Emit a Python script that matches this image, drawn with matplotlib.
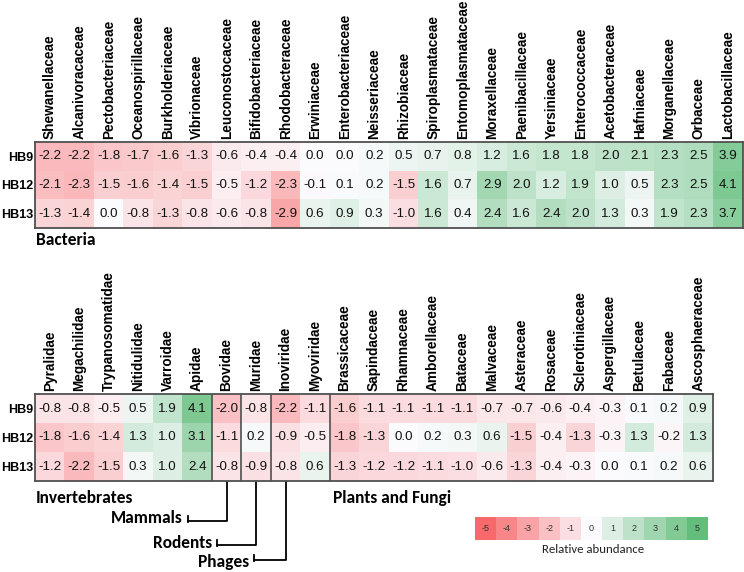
import matplotlib
matplotlib.use('Agg')
import matplotlib.pyplot as plt
import numpy as np
from matplotlib.colors import LinearSegmentedColormap, Normalize
from matplotlib import font_manager as fm

# ---------------- data ----------------
samples = ['HB9', 'HB12', 'HB13']

bacteria_families = ['Shewanellaceae', 'Alcanivoracaceae', 'Pectobacteriaceae', 'Oceanospirillaceae',
                     'Burkholderiaceae', 'Vibrionaceae', 'Leuconostocaceae', 'Bifidobacteriaceae',
                     'Rhodobacteraceae', 'Erwiniaceae', 'Enterobacteriaceae', 'Neisseriaceae',
                     'Rhizobiaceae', 'Spiroplasmataceae', 'Entomoplasmataceae', 'Moraxellaceae',
                     'Paenibacillaceae', 'Yersiniaceae', 'Enterococcaceae', 'Acetobacteraceae',
                     'Hafniaceae', 'Morganellaceae', 'Orbaceae', 'Lactobacillaceae']
bacteria_hb9 = [-2.2, -2.2, -1.8, -1.7, -1.6, -1.3, -0.6, -0.4, -0.4, 0.0, 0.0, 0.2,
                0.5, 0.7, 0.8, 1.2, 1.6, 1.8, 1.8, 2.0, 2.1, 2.3, 2.5, 3.9]
bacteria_hb12 = [-2.1, -2.3, -1.5, -1.6, -1.4, -1.5, -0.5, -1.2, -2.3, -0.1, 0.1, 0.2,
                 -1.5, 1.6, 0.7, 2.9, 2.0, 1.2, 1.9, 1.0, 0.5, 2.3, 2.5, 4.1]
bacteria_hb13 = [-1.3, -1.4, 0.0, -0.8, -1.3, -0.8, -0.6, -0.8, -2.9, 0.6, 0.9, 0.3,
                 -1.0, 1.6, 0.4, 2.4, 1.6, 2.4, 2.0, 1.3, 0.3, 1.9, 2.3, 3.7]

other_families = ['Pyralidae', 'Megachilidae', 'Trypanosomatidae', 'Nitidulidae', 'Varroidae', 'Apidae',
                  'Bovidae', 'Muridae', 'Inoviridae', 'Myoviridae',
                  'Brassicaceae', 'Sapindaceae', 'Rhamnaceae', 'Amborellaceae', 'Bataceae', 'Malvaceae',
                  'Asteraceae', 'Rosaceae', 'Sclerotiniaceae', 'Aspergillaceae', 'Betulaceae',
                  'Fabaceae', 'Ascosphaeraceae']
other_hb9 = [-0.8, -0.8, -0.5, 0.5, 1.9, 4.1, -2.0, -0.8, -2.2, -1.1,
             -1.6, -1.1, -1.1, -1.1, -1.1, -0.7, -0.7, -0.6, -0.4, -0.3, 0.1, 0.2, 0.9]
other_hb12 = [-1.8, -1.6, -1.4, 1.3, 1.0, 3.1, -1.1, 0.2, -0.9, -0.5,
              -1.8, -1.3, 0.0, 0.2, 0.3, 0.6, -1.5, -0.4, -1.3, -0.3, 1.3, -0.2, 1.3]
other_hb13 = [-1.2, -2.2, -1.5, 0.3, 1.0, 2.4, -0.8, -0.9, -0.8, 0.6,
              -1.3, -1.2, -1.2, -1.1, -1.0, -0.6, -1.3, -0.4, -0.3, 0.0, 0.1, 0.2, 0.6]

# group sizes in the lower panel: Invertebrates, Mammals, Rodents, Phages, Plants and Fungi
other_group_sizes = [6, 1, 1, 2, 13]

legend_values = [-5, -4, -3, -2, -1, 0, 1, 2, 3, 4, 5]

# ---------------- figure ----------------
W, H = 744, 572
fig = plt.figure(figsize=(W / 100, H / 100), dpi=100)

cmap = LinearSegmentedColormap.from_list('ra', ['#f8696b', '#fcfcff', '#63be7b'])
norm = Normalize(-5, 5)

installed = set(f.name for f in fm.fontManager.ttflist)
SANS = [f for f in ['Liberation Sans', 'Arimo', 'DejaVu Sans'] if f in installed or f == 'DejaVu Sans']
CAL = [f for f in ['Carlito', 'Lato', 'DejaVu Sans'] if f in installed or f == 'DejaVu Sans']
EDGE = '#505050'


def px_axes(x0, y0, x1, y1, **kw):
    return fig.add_axes([x0 / W, 1 - y1 / H, (x1 - x0) / W, (y1 - y0) / H], **kw)


def heat(ax, rows, cols, seps):
    data = np.array(rows)
    ax.imshow(data, cmap=cmap, norm=norm, aspect='auto', interpolation='nearest')
    for i in range(data.shape[0]):
        for j in range(data.shape[1]):
            ax.text(j, i, f'{data[i, j]:.1f}', ha='center', va='center',
                    fontsize=9.6, family=SANS, color='#111111')
    ax.xaxis.tick_top()
    ax.set_xticks(range(len(cols)))
    ax.set_xticklabels(cols, rotation=90, fontsize=9.8, fontweight='bold', family=SANS)
    ax.set_yticks(range(len(samples)))
    ax.set_yticklabels(samples, fontsize=9.0, fontweight='bold', family=SANS)
    ax.tick_params(length=0, pad=2.5)
    ax.tick_params(axis='y', pad=1.5)
    for s in ax.spines.values():
        s.set_color(EDGE)
        s.set_linewidth(1.3)
    for sp in seps:
        ax.axvline(sp - 0.5, color=EDGE, lw=1.2)


# upper heatmap
ax1 = px_axes(35, 142, 743, 228)
heat(ax1, [bacteria_hb9, bacteria_hb12, bacteria_hb13], bacteria_families, [])

# lower heatmap
cum = np.cumsum(other_group_sizes)
ax2 = px_axes(35, 394, 713, 481)
heat(ax2, [other_hb9, other_hb12, other_hb13], other_families, list(cum[:-1]))

# overlay in pixel coordinates for text / brackets
ov = fig.add_axes([0, 0, 1, 1], zorder=-1)
ov.set_xlim(0, W)
ov.set_ylim(H, 0)
ov.axis('off')
ov.patch.set_alpha(0)

gsize = 12.5 if CAL[0] == 'Carlito' else 12
ov.text(36, 245, 'Bacteria', fontsize=gsize, fontweight='bold', family=CAL, va='baseline')
ov.text(36, 503, 'Invertebrates', fontsize=gsize, fontweight='bold', family=CAL, va='baseline')
ov.text(333, 503, 'Plants and Fungi', fontsize=gsize, fontweight='bold', family=CAL, va='baseline')

# brackets pointing to single-group columns
cell_w = (713 - 35) / len(other_families)
bracket_specs = [('Mammals', cum[0], 183, 523, 521),
                 ('Rodents', cum[1], 212, 548, 545),
                 ('Phages', cum[2], 249, 567, 560)]
for label, col, txt_right, base, hy in bracket_specs:
    xc = 35 + (col + 0.5) * cell_w
    xt = txt_right + 5
    ov.text(txt_right, base, label, fontsize=gsize, fontweight='bold', family=CAL,
            ha='right', va='baseline')
    ov.plot([xt, xt], [hy - 5, hy + 1], color='black', lw=1.3)
    ov.plot([xt, xc, xc], [hy, hy, 481], color='black', lw=1.3)

# colour legend
axl = px_axes(475, 517, 708, 540)
axl.imshow(np.array([legend_values]), cmap=cmap, norm=norm, aspect='auto', interpolation='nearest')
for j, v in enumerate(legend_values):
    axl.text(j, 0, str(v), ha='center', va='center', fontsize=6.5, family=SANS, color='#333333')
axl.set_xticks([])
axl.set_yticks([])
for s in axl.spines.values():
    s.set_visible(False)
ov.text(593, 553, 'Relative abundance', fontsize=9.2 if CAL[0] == 'Carlito' else 8.8, family=CAL,
        ha='center', va='baseline', color='#222222')

fig.savefig('out.png', dpi=100)
